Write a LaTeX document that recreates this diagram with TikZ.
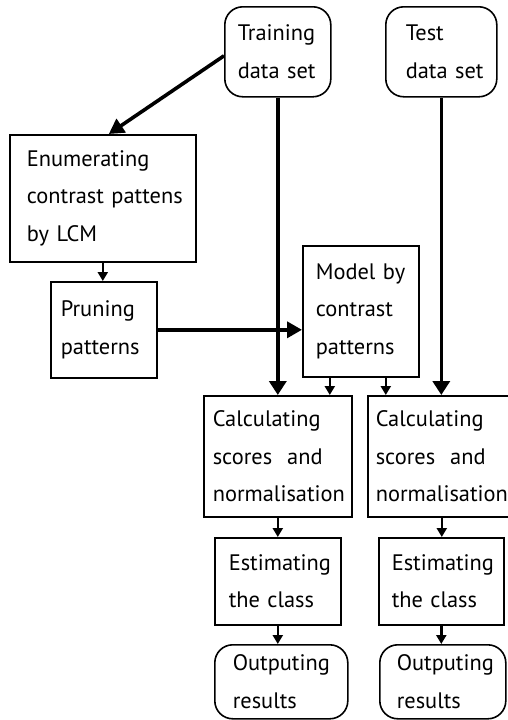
\documentclass[tikz,border=0pt]{standalone}
\usepackage{fontspec}
\setmainfont{PT Sans}
\usetikzlibrary{arrows.meta}
\begin{document}
\begin{tikzpicture}[x=1pt,y=-1pt,
  font=\fontsize{22.4}{37.5}\selectfont,
  bx/.style n args={3}{draw, line width=1.6pt, anchor=north west, align=left,
     inner ysep=0pt, inner xsep=#1, text width=#2, minimum height=#3},
  rbx/.style={rounded corners=18pt},
  big/.style={line width=3.6pt, -{Triangle[length=14pt,width=17pt]}},
  mid/.style={line width=3.6pt, -{Triangle[length=15pt,width=16pt]}},
  small/.style={line width=2.4pt, -{Triangle[length=9pt,width=10pt]}}]
\useasboundingbox (0,0) rectangle (507,720);
% nodes: inset, text width = w - 2*inset, height
\node[bx={13pt}{80pt}{90pt}, rbx] (train) at (224,6) {\mbox{Training}\\\mbox{data set}};
\node[bx={20pt}{71pt}{90pt}, rbx] (test) at (385,6) {\mbox{Test}\\\mbox{data set}};
\node[bx={17pt}{152pt}{127pt}] (enum) at (9,134) {\mbox{Enumerating}\\\mbox{contrast pattens}\\\mbox{by LCM}};
\node[bx={10pt}{86pt}{96pt}] (prune) at (50,281) {\mbox{Pruning}\\\mbox{patterns}};
\node[bx={13pt}{90pt}{131pt}] (model) at (302,245) {\mbox{Model by}\\\mbox{contrast}\\\mbox{patterns}};
\node[bx={9pt}{130pt}{121pt}] (calcA) at (203,395) {\mbox{Calculating}\\\mbox{scores\ \ and}\\\mbox{normalisation}};
\node[bx={8pt}{132pt}{121pt}] (calcB) at (367,395) {\mbox{Calculating}\\\mbox{scores\ \ and}\\\mbox{normalisation}};
\node[bx={14pt}{98pt}{87pt}] (estA) at (214,537) {\mbox{Estimating}\\\mbox{the class}};
\node[bx={13pt}{99pt}{87pt}] (estB) at (378,537) {\mbox{Estimating}\\\mbox{the class}};
\node[bx={18pt}{97pt}{74pt}, rbx] (outA) at (214,644) {\mbox{Outputing}\\\mbox{results}};
\node[bx={17pt}{92pt}{74pt}, rbx] (outB) at (379,644) {\mbox{Outputing}\\\mbox{results}};
% connectors
\draw[mid] ([yshift=-4pt]train.west) -- ([xshift=6pt]enum.north);
\draw[big] (train.south) -- (train.south |- calcA.north);
\draw[big] (test.south) -- (test.south |- calcB.north);
\draw[small] (enum.south) -- (enum.south |- prune.north);
\draw[mid] (prune.east) -- (prune.east -| model.west);
\draw[small] ([xshift=-31pt]model.south) -- ([xshift=-31pt]model.south |- calcA.north);
\draw[small] ([xshift=25pt]model.south) -- ([xshift=25pt]model.south |- calcB.north);
\draw[small] (calcA.south) -- (calcA.south |- estA.north);
\draw[small] (calcB.south) -- (calcB.south |- estB.north);
\draw[small] (estA.south) -- (estA.south |- outA.north);
\draw[small] (estB.south) -- (estB.south |- outB.north);
\end{tikzpicture}
\end{document}
